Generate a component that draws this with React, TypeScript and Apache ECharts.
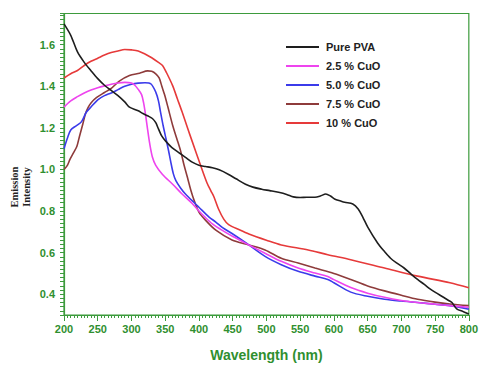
import React, { useEffect, useRef } from "react";
import * as echarts from "echarts";

const seriesNames = ["Pure PVA", "2.5 % CuO", "5.0 % CuO", "7.5 % CuO", "10 % CuO"];
const seriesColors = ["#1e1e1e", "#ee44ee", "#3b3bea", "#8e3b3b", "#e63a3a"];

const xTickLabels = [200, 250, 300, 350, 400, 450, 500, 550, 600, 650, 700, 750, 800];
const yTickLabels = [0.4, 0.6, 0.8, 1.0, 1.2, 1.4, 1.6];

const pureData = [
  [200, 1.7], [210, 1.645], [220, 1.565], [230, 1.515], [240, 1.475], [250, 1.437],
  [260, 1.405], [270, 1.38], [280, 1.355], [290, 1.325], [297, 1.3], [310, 1.282],
  [317, 1.269], [324, 1.258], [331, 1.245], [336, 1.225], [340, 1.195], [345, 1.16],
  [351, 1.135], [360, 1.105], [371, 1.079], [380, 1.058], [390, 1.035], [400, 1.02],
  [410, 1.014], [420, 1.008], [430, 0.998], [444, 0.976], [455, 0.955], [469, 0.929],
  [480, 0.915], [493, 0.905], [505, 0.898], [518, 0.89], [530, 0.88], [540, 0.868],
  [550, 0.865], [560, 0.866], [572, 0.866], [580, 0.872], [588, 0.882], [595, 0.872],
  [601, 0.858], [610, 0.848], [616, 0.842], [628, 0.834], [636, 0.81], [643, 0.77],
  [650, 0.724], [665, 0.645], [675, 0.605], [684, 0.573], [694, 0.548], [704, 0.526],
  [714, 0.498], [724, 0.471], [734, 0.447], [743, 0.424], [753, 0.404], [763, 0.384],
  [770, 0.37], [775, 0.36], [782, 0.33], [792, 0.316], [800, 0.305]
];

const cuo25Data = [
  [200, 1.3], [210, 1.33], [220, 1.35], [230, 1.368], [240, 1.382], [250, 1.393],
  [260, 1.402], [270, 1.41], [280, 1.416], [290, 1.419], [300, 1.416], [305, 1.405],
  [310, 1.385], [315, 1.36], [318, 1.32], [321, 1.26], [324, 1.19], [327, 1.125],
  [331, 1.06], [336, 1.02], [346, 0.976], [361, 0.929], [375, 0.882], [390, 0.836],
  [400, 0.8], [410, 0.767], [420, 0.738], [434, 0.708], [451, 0.676], [474, 0.637],
  [498, 0.597], [522, 0.558], [547, 0.526], [572, 0.502], [591, 0.485], [600, 0.47],
  [625, 0.432], [650, 0.405], [675, 0.385], [700, 0.37], [724, 0.36], [750, 0.352],
  [772, 0.345], [800, 0.337]
];

const cuo50Data = [
  [200, 1.1], [205, 1.15], [210, 1.19], [218, 1.21], [226, 1.23], [233, 1.275],
  [240, 1.3], [250, 1.335], [260, 1.355], [270, 1.368], [280, 1.384], [290, 1.4],
  [300, 1.41], [310, 1.415], [320, 1.417], [329, 1.411], [336, 1.372], [340, 1.33],
  [343, 1.277], [347, 1.21], [351, 1.15], [355, 1.09], [358, 1.04], [362, 0.98],
  [366, 0.945], [373, 0.91], [380, 0.882], [395, 0.834], [400, 0.818], [415, 0.771],
  [425, 0.747], [435, 0.72], [449, 0.692], [474, 0.637], [498, 0.582], [522, 0.542],
  [547, 0.51], [572, 0.487], [591, 0.471], [600, 0.455], [625, 0.41], [650, 0.39],
  [675, 0.376], [700, 0.367], [724, 0.36], [750, 0.352], [772, 0.345], [800, 0.328]
];

const cuo75Data = [
  [200, 1.0], [205, 1.02], [209, 1.05], [214, 1.08], [219, 1.11], [223, 1.16],
  [228, 1.22], [232, 1.27], [236, 1.3], [240, 1.32], [248, 1.345], [260, 1.37],
  [270, 1.39], [282, 1.425], [297, 1.452], [312, 1.463], [324, 1.474], [330, 1.472],
  [336, 1.46], [341, 1.44], [345, 1.4], [349, 1.36], [354, 1.3], [361, 1.213],
  [367, 1.15], [373, 1.087], [378, 1.02], [383, 0.961], [388, 0.9], [393, 0.85],
  [400, 0.795], [410, 0.755], [425, 0.708], [449, 0.661], [474, 0.637], [498, 0.613],
  [522, 0.573], [547, 0.55], [572, 0.526], [600, 0.5], [625, 0.471], [650, 0.44],
  [675, 0.416], [700, 0.395], [724, 0.376], [750, 0.362], [772, 0.353], [800, 0.345]
];

const cuo10Data = [
  [200, 1.44], [210, 1.46], [220, 1.476], [230, 1.5], [240, 1.52], [250, 1.535],
  [260, 1.55], [270, 1.562], [280, 1.57], [290, 1.577], [300, 1.575], [310, 1.57],
  [320, 1.555], [330, 1.537], [340, 1.515], [346, 1.5], [352, 1.465], [361, 1.403],
  [368, 1.34], [375, 1.277], [383, 1.2], [390, 1.135], [402, 1.024], [412, 0.935],
  [418, 0.895], [422, 0.87], [429, 0.81], [437, 0.76], [444, 0.735], [460, 0.71],
  [474, 0.69], [500, 0.66], [522, 0.637], [562, 0.613], [591, 0.59], [625, 0.566],
  [675, 0.526], [724, 0.487], [772, 0.455], [800, 0.431]
];

const allData = [pureData, cuo25Data, cuo50Data, cuo75Data, cuo10Data];

const GREEN_AXIS = "#3d9b3d";
const GREEN_TEXT = "#2f8f2f";

export default function App() {
  const ref = useRef<HTMLDivElement>(null);
  useEffect(() => {
    const chart = echarts.init(ref.current!, null, { renderer: "svg" });
    const isYLabel = (v: number) => yTickLabels.some((t) => Math.abs(t - v) < 1e-6);
    chart.setOption({
      animation: false,
      backgroundColor: "#ffffff",
      grid: {
        left: 64,
        right: 9,
        top: 13.5,
        height: 306,
        show: true,
        borderColor: GREEN_AXIS,
        borderWidth: 1.2,
        backgroundColor: "transparent",
      },
      legend: {
        data: seriesNames,
        orient: "vertical",
        left: 281,
        top: 35,
        itemWidth: 33,
        itemHeight: 14,
        itemGap: 5,
        icon: "path://M0,6 L32,6 L32,8 L0,8 Z",
        textStyle: {
          fontFamily: "Liberation Sans, Arial, sans-serif",
          fontWeight: "bold",
          fontSize: 11,
          color: "#222",
          lineHeight: 14,
          padding: [0, 0, 0, 2],
        },
      },
      xAxis: {
        type: "value",
        min: 200,
        max: 800,
        interval: 50,
        name: "Wavelength (nm)",
        nameLocation: "middle",
        nameGap: 33,
        nameTextStyle: {
          fontFamily: "Liberation Sans, Arial, sans-serif",
          fontWeight: "bold",
          fontSize: 14,
          color: GREEN_TEXT,
        },
        axisLine: { show: true, lineStyle: { color: GREEN_AXIS, width: 1.2 } },
        axisTick: { show: true, length: 6, lineStyle: { color: GREEN_AXIS } },
        minorTick: { show: true, splitNumber: 10, length: 3, lineStyle: { color: GREEN_AXIS } },
        splitLine: { show: false },
        axisLabel: {
          margin: 8,
          color: GREEN_TEXT,
          fontFamily: "Liberation Sans, Arial, sans-serif",
          fontWeight: "bold",
          fontSize: 11,
          formatter: (v: number) => (xTickLabels.includes(v) ? String(v) : ""),
        },
      },
      yAxis: {
        type: "value",
        min: 0.3,
        max: 1.75,
        interval: 0.02,
        axisLine: { show: true, lineStyle: { color: GREEN_AXIS, width: 1.2 } },
        axisTick: { show: true, length: 4, lineStyle: { color: GREEN_AXIS } },
        splitLine: { show: false },
        axisLabel: {
          margin: 9,
          color: GREEN_TEXT,
          fontFamily: "Liberation Sans, Arial, sans-serif",
          fontWeight: "bold",
          fontSize: 11,
          formatter: (v: number) => (isYLabel(v) ? v.toFixed(1) : ""),
        },
      },
      graphic: [
        {
          type: "text",
          x: 20,
          y: 187,
          rotation: Math.PI / 2,
          style: {
            text: "Emission\nIntensity",
            align: "center",
            verticalAlign: "middle",
            fontFamily: "Liberation Serif, Times New Roman, serif",
            fontWeight: "bold",
            fontSize: 10.5,
            lineHeight: 12,
            fill: "#222",
          },
        },
      ],
      series: seriesNames.map((name, i) => ({
        name,
        type: "line",
        data: allData[i],
        symbol: "none",
        smooth: 0.3,
        z: i === 0 ? 10 : 5 - i,
        lineStyle: { color: seriesColors[i], width: 1.6 },
        itemStyle: { color: seriesColors[i] },
      })),
    });
    return () => chart.dispose();
  }, []);
  return (
    <div
      ref={ref}
      style={{ position: "fixed", left: 0, top: 0, width: 481, height: 367 }}
    />
  );
}
